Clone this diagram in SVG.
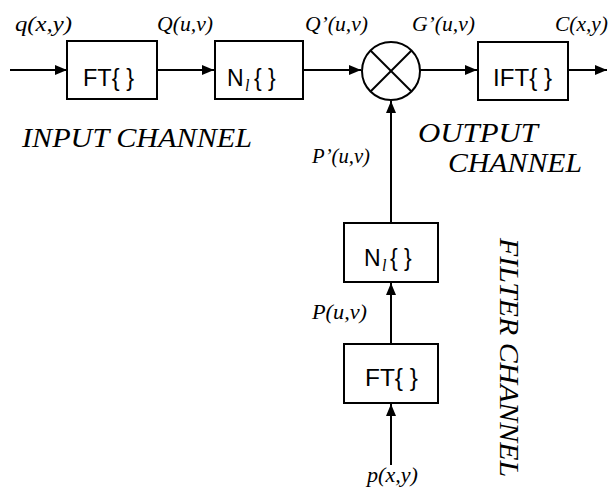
<svg xmlns="http://www.w3.org/2000/svg" width="610" height="488" viewBox="0 0 610 488">
  <style>
    .box { fill: #ffffff; stroke: #000000; stroke-width: 2; }
    .wire { fill: none; stroke: #000000; stroke-width: 2; }
    .lbl { font-family: "Liberation Serif", "Times New Roman", serif; font-style: italic; font-size: 20px; fill: #000; }
    .big { font-family: "Liberation Serif", "Times New Roman", serif; font-style: italic; font-size: 27px; fill: #000; }
    .op { font-family: "Liberation Sans", Arial, sans-serif; font-size: 23px; fill: #000; }
    .sub { font-family: "Liberation Serif", "Times New Roman", serif; font-style: italic; font-size: 16px; }
  </style>
  <defs>
    <marker id="arr" markerUnits="userSpaceOnUse" markerWidth="12" markerHeight="10" refX="12" refY="5" orient="auto">
      <path d="M0,0 L12,5 L0,10 Z" fill="#000"/>
    </marker>
  </defs>
  <rect width="610" height="488" fill="#ffffff"/>

  <g id="connectors">
    <line class="wire" x1="10" y1="70" x2="67" y2="70" marker-end="url(#arr)"/>
    <line class="wire" x1="157" y1="70" x2="214" y2="70" marker-end="url(#arr)"/>
    <line class="wire" x1="303" y1="70" x2="361" y2="70" marker-end="url(#arr)"/>
    <line class="wire" x1="420" y1="70" x2="477" y2="70" marker-end="url(#arr)"/>
    <line class="wire" x1="568" y1="70" x2="607" y2="70" marker-end="url(#arr)"/>
    <line class="wire" x1="391" y1="223" x2="391" y2="101" marker-end="url(#arr)"/>
    <line class="wire" x1="391" y1="344" x2="391" y2="283" marker-end="url(#arr)"/>
    <line class="wire" x1="391" y1="465" x2="391" y2="404" marker-end="url(#arr)"/>
  </g>

  <g id="ft1">
    <rect class="box" x="67" y="41" width="90" height="58"/>
    <text class="op" x="83" y="86" textLength="51" lengthAdjust="spacingAndGlyphs">FT{ }</text>
  </g>
  <g id="nl1">
    <rect class="box" x="215" y="41" width="88" height="58"/>
    <text class="op" x="227" y="86">N</text>
    <text class="op sub" x="245" y="91">l</text>
    <text class="op" x="254" y="86">{ }</text>
  </g>
  <g id="mult">
    <circle class="box" cx="391" cy="71" r="29"/>
    <line class="wire" x1="370.5" y1="50.5" x2="411.5" y2="91.5"/>
    <line class="wire" x1="411.5" y1="50.5" x2="370.5" y2="91.5"/>
  </g>
  <g id="ift">
    <rect class="box" x="478" y="42" width="90" height="58"/>
    <text class="op" x="493" y="86" textLength="59" lengthAdjust="spacingAndGlyphs">IFT{ }</text>
  </g>
  <g id="nl2">
    <rect class="box" x="344" y="223" width="94" height="59"/>
    <text class="op" x="364" y="266">N</text>
    <text class="op sub" x="382" y="271">l</text>
    <text class="op" x="390" y="266">{ }</text>
  </g>
  <g id="ft2">
    <rect class="box" x="344" y="344" width="94" height="59"/>
    <text class="op" x="365" y="386" textLength="53" lengthAdjust="spacingAndGlyphs">FT{ }</text>
  </g>

  <g id="labels">
    <text class="lbl" x="15" y="31" textLength="57" lengthAdjust="spacingAndGlyphs">q(x,y)</text>
    <text class="lbl" x="157" y="31" textLength="56" lengthAdjust="spacingAndGlyphs">Q(u,v)</text>
    <text class="lbl" x="305" y="31" textLength="63" lengthAdjust="spacingAndGlyphs">Q’(u,v)</text>
    <text class="lbl" x="412" y="31" textLength="63" lengthAdjust="spacingAndGlyphs">G’(u,v)</text>
    <text class="lbl" x="555" y="31" textLength="53" lengthAdjust="spacingAndGlyphs">C(x,y)</text>
    <text class="lbl" x="312" y="163" textLength="58" lengthAdjust="spacingAndGlyphs">P’(u,v)</text>
    <text class="lbl" x="312" y="319" textLength="55" lengthAdjust="spacingAndGlyphs">P(u,v)</text>
    <text class="lbl" x="367" y="482" textLength="51" lengthAdjust="spacingAndGlyphs">p(x,y)</text>
    <text class="big" x="22" y="147" textLength="230" lengthAdjust="spacingAndGlyphs">INPUT CHANNEL</text>
    <text class="big" x="418" y="142" textLength="120" lengthAdjust="spacingAndGlyphs">OUTPUT</text>
    <text class="big" x="448" y="172" textLength="134" lengthAdjust="spacingAndGlyphs">CHANNEL</text>
    <text class="big" transform="translate(500,238) rotate(90)" x="0" y="0" font-size="25" textLength="239" lengthAdjust="spacingAndGlyphs">FILTER CHANNEL</text>
  </g>
</svg>
